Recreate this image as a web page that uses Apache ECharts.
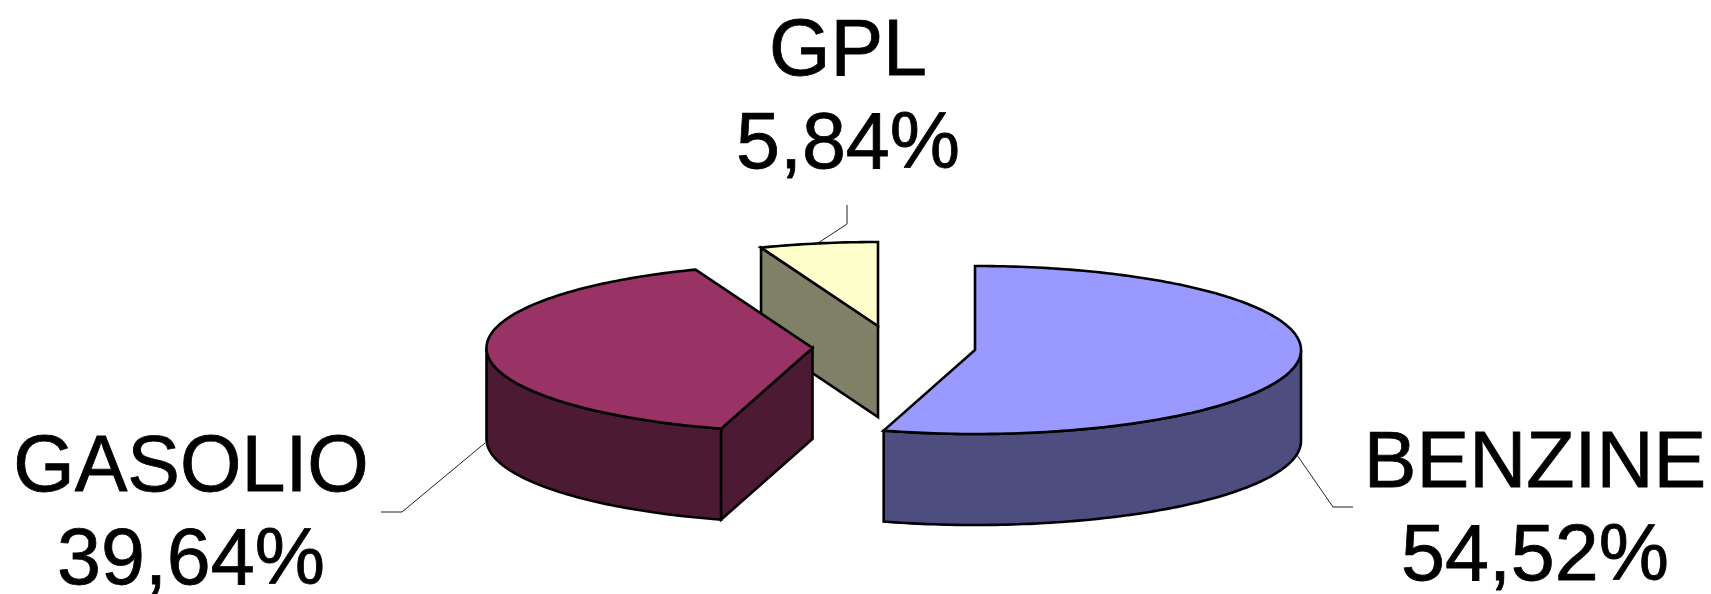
<!DOCTYPE html>
<html>
<head>
<meta charset="utf-8">
<style>html,body{margin:0;padding:0;background:#fff}#c{width:1711px;height:594px}</style>
<script src="https://cdn.jsdelivr.net/npm/echarts@6/dist/echarts.min.js"></script>
</head>
<body>
<div id="c"></div>
<script>
var categories = ['BENZINE', 'GASOLIO', 'GPL'];
var shares = [54.52, 39.64, 5.84];
var topColors = ['#9999FF', '#993366', '#FFFFCC'];
var sideColors = ['#4D4D80', '#4D1A33', '#808066'];

var RX = 326, RY = 84, DEPTH = 91, FONT = 79, LINE_GAP = 93;
var centers = [[975, 350], [812.5, 348], [878, 326]];
var labelAt = [[1535, 505], [191, 509], [848, 93]];
var leaders = [
  [[1353, 507], [1333, 507], [1297, 455]],
  [[381, 512], [402, 512], [485, 443]],
  [[847, 205], [847, 224], [815, 245]]
];
var total = shares.reduce(function (a, b) { return a + b; }, 0);

function pt(c, deg, dy) {
  var r = deg * Math.PI / 180;
  return [c[0] + RX * Math.sin(r), c[1] - RY * Math.cos(r) + (dy || 0)];
}
function arc(c, a, b, dy) {
  var pts = [], n = Math.max(2, Math.ceil(Math.abs(b - a)));
  for (var i = 0; i <= n; i++) pts.push(pt(c, a + (b - a) * i / n, dy));
  return pts;
}
var line = { stroke: '#000', lineWidth: 2.6, lineJoin: 'miter' };
function face(points, fill, z) {
  return { type: 'polygon', z2: z, shape: { points: points },
    style: Object.assign({ fill: fill }, line) };
}

function renderItem(params, api) {
  var i = params.dataIndex, c = centers[i], kids = [];
  var start = 0;
  for (var k = 0; k < i; k++) start += shares[k] / total * 360;
  var end = start + api.value(0) / total * 360;
  var base = (3 - i) * 10;

  // outer wall: only the part of the rim facing the viewer
  var wa = Math.max(start, 90), wb = Math.min(end, 270);
  if (wb > wa) {
    kids.push(face(arc(c, wa, wb, 0).concat(arc(c, wb, wa, DEPTH)), sideColors[i], base + 1));
  }
  // cut face visible when its outward normal points down the screen
  if (Math.cos((start - 90) * Math.PI / 180) < -1e-6) {
    var p = pt(c, start, 0);
    kids.push(face([c, p, [p[0], p[1] + DEPTH], [c[0], c[1] + DEPTH]], sideColors[i], base + 2));
  }
  if (Math.cos((end + 90) * Math.PI / 180) < -1e-6) {
    var q = pt(c, end, 0);
    kids.push(face([c, q, [q[0], q[1] + DEPTH], [c[0], c[1] + DEPTH]], sideColors[i], base + 2));
  }
  kids.push(face([c].concat(arc(c, start, end, 0)), topColors[i], base + 3));

  kids.push({ type: 'polyline', z2: 100, shape: { points: leaders[i] },
    style: { fill: null, stroke: '#222', lineWidth: 1 } });

  var pct = api.value(0).toFixed(2).replace('.', ',') + '%';
  [categories[i], pct].forEach(function (txt, n) {
    kids.push({ type: 'text', z2: 100, x: labelAt[i][0], y: labelAt[i][1] + n * LINE_GAP,
      style: { text: txt, fill: '#000', stroke: '#000', lineWidth: 0.8, align: 'center', verticalAlign: 'bottom',
        font: FONT + 'px "Liberation Sans", Arial, sans-serif' } });
  });
  return { type: 'group', children: kids };
}

var chart = echarts.init(document.getElementById('c'), null, { renderer: 'canvas' });
chart.setOption({
  animation: false,
  backgroundColor: '#fff',
  series: [{
    type: 'custom',
    coordinateSystem: 'none',
    renderItem: renderItem,
    silent: true,
    data: shares.map(function (v, i) { return { name: categories[i], value: [v] }; })
  }]
});
</script>
</body>
</html>
